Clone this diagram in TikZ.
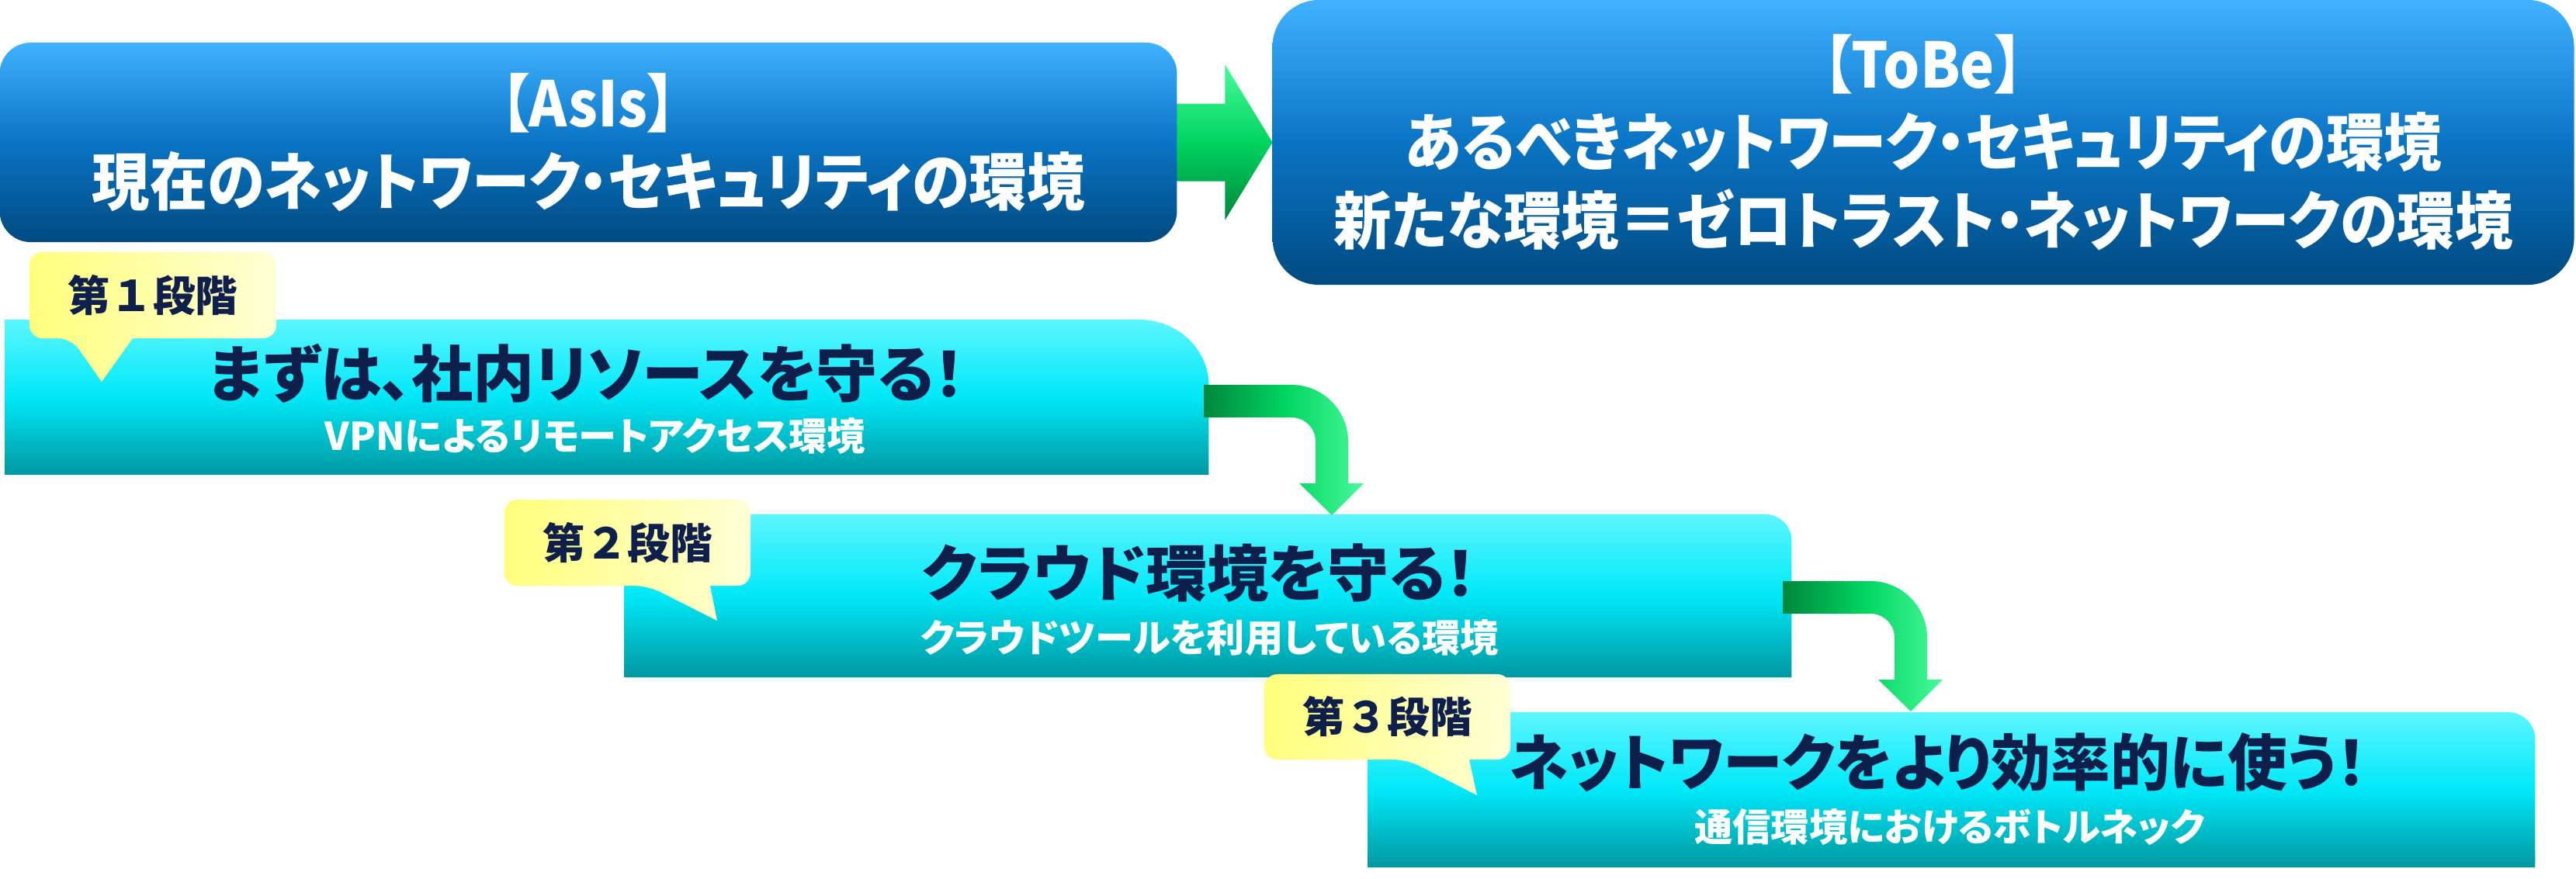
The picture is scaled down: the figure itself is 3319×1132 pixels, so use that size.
\documentclass[tikz,border=0pt]{standalone}
\usepackage{fontspec}
\setmainfont{Noto Sans CJK JP}
\newfontfamily\jpfont{Noto Sans CJK JP}[RawFeature=+palt]
\newfontfamily\jpnarrow{Noto Sans CJK JP}[RawFeature=+palt,FakeStretch=0.92]
\usetikzlibrary{backgrounds,calc,positioning}

\definecolor{navy}{HTML}{0F1F4B}
\definecolor{blueT}{HTML}{40B2FF}
\definecolor{blueM}{HTML}{0A74C4}
\definecolor{blueB}{HTML}{004A80}
\definecolor{cyanT}{HTML}{5CF6FF}
\definecolor{cyanM}{HTML}{00E8F8}
\definecolor{cyanB}{HTML}{00979F}
\definecolor{yelL}{HTML}{FFFF7C}
\definecolor{yelR}{HTML}{FFFFD6}
\definecolor{grnD}{HTML}{00863C}
\definecolor{grnM}{HTML}{00D460}
\definecolor{grnL}{HTML}{48FA9A}

\begin{document}
\begin{tikzpicture}
  [
   x=0.01cm, y=-0.01cm,
   bluebox/.style={rectangle,inner sep=0pt,outer sep=0pt,align=center,text=white,
     top color=blueT,bottom color=blueB,middle color=blueM,
     font=\jpnarrow\bfseries\fontsize{23}{28.5}\selectfont},
   stagebox/.style={rectangle,inner sep=0pt,outer sep=0pt},
   stagefill/.style={top color=cyanT,bottom color=cyanB,middle color=cyanM},
   title/.style={text=navy,inner sep=0pt,font=\jpfont\bfseries\fontsize{22.5}{27}\selectfont},
   sub/.style={text=white,inner sep=0pt,font=\jpfont\bfseries\fontsize{14}{17}\selectfont},
   tag/.style={rectangle,inner sep=0pt,outer sep=0pt,text=navy,
     minimum width=3.17cm,minimum height=1.11cm,font=\bfseries\fontsize{15.5}{18}\selectfont},
   tagfill/.style={left color=yelL,right color=yelR},
   grnh/.style={left color=grnD,right color=grnL,middle color=grnM},
   grnv/.style={top color=grnL,bottom color=grnD,middle color=grnM}
  ]
   \useasboundingbox (0,0) rectangle (3319,1132);

   % AsIs / ToBe
   \node[bluebox,rounded corners=0.4cm,minimum width=15.16cm,minimum height=2.57cm]
     (asis) at (758,183.5) {【AsIs】\\現在のネットワーク・セキュリティの環境};
   \node[bluebox,rounded corners=0.6cm,minimum width=16.76cm,minimum height=3.67cm]
     (tobe) at (2478,183.5) {【ToBe】\\あるべきネットワーク・セキュリティの環境\\新たな環境＝ゼロトラスト・ネットワークの環境};

   % stages
   \node[stagebox,minimum width=15.50cm,minimum height=2.00cm] (s1) at (782,512) {};
   \node[stagebox,minimum width=15.03cm,minimum height=2.10cm] (s2) at (1556.5,768) {};
   \node[stagebox,minimum width=15.03cm,minimum height=2.00cm] (s3) at (2514.5,1018) {};

   \node[title] (t1) at (756,481) {まずは、社内リソースを守る！};
   \node[sub]   (u1) at (767,562) {VPNによるリモートアクセス環境};
   \node[title] (t2) at (1545,739) {クラウド環境を守る！};
   \node[sub]   (u2) at (1558,822) {クラウドツールを利用している環境};
   \node[title,xscale=0.97] (t3) at (2497,983) {ネットワークをより効率的に使う！};
   \node[sub]   (u3) at (2512,1066) {通信環境におけるボトルネック};

   % callouts
   \node[tag,minimum width=3.18cm] (c1) at (197,380.5) {第１段階};
   \node[tag] (c2) at (808.5,699.5) {第２段階};
   \node[tag,minimum height=1.10cm] (c3) at (1787.5,924) {第３段階};
   \coordinate (c1tip) at (131,492);
   \coordinate (c2tip) at (924,800);
   \coordinate (c3tip) at (1903,1025);

   \coordinate (a1) at (1551,517);
   \coordinate (a2) at (2297,770);

   \begin{scope}[on background layer]
     \shade[stagefill] (s1.south west) -- (s1.north west) -- ($(s1.north east)+(-90,0)$)
       arc[start angle=-90,end angle=0,x radius=90,y radius=85] -- (s1.south east) -- cycle;
     \shade[stagefill] (s2.south west) -- (s2.north west) -- ($(s2.north east)+(-34,0)$)
       arc[start angle=-90,end angle=0,radius=34] -- (s2.south east) -- cycle;
     \shade[stagefill] (s3.south west) -- (s3.north west) -- ($(s3.north east)+(-35,0)$)
       arc[start angle=-90,end angle=0,radius=35] -- (s3.south east) -- cycle;

     % arrows
     \shade[grnv] ($(asis.east)+(0,-50)$) -- ($(asis.east)+(62,-50)$) -- ($(asis.east)+(62,-100)$)
       -- (tobe.west) -- ($(asis.east)+(62,100)$) -- ($(asis.east)+(62,50)$) -- ($(asis.east)+(0,50)$) -- cycle;
     \foreach \a in {a1,a2}
       \shade[grnh] ($(\a)+(0,-21)$) -- ++(113,0) arc[start angle=-90,end angle=0,radius=73]
         -- ++(0,54) -- ++(20,0) -- ++(-41,41) -- ++(-42,-41) -- ++(21,0) -- ++(0,-54)
         arc[start angle=0,end angle=-90,radius=31] -- ++(-113,0) -- cycle;

     \shade[tagfill] ($(c1.south west)+(54,0)$) -- (c1tip) -- ($(c1.south west)+(133,0)$)
       [rounded corners=0.17cm] -- (c1.south east) -- (c1.north east) -- (c1.north west) -- (c1.south west) -- cycle;
     \shade[tagfill] ($(c2.south west)+(185,0)$) -- (c2tip) -- ($(c2.south west)+(265,0)$)
       [rounded corners=0.17cm] -- (c2.south east) -- (c2.north east) -- (c2.north west) -- (c2.south west) -- cycle;
     \shade[tagfill] ($(c3.south west)+(184,0)$) -- (c3tip) -- ($(c3.south west)+(264,0)$)
       [rounded corners=0.17cm] -- (c3.south east) -- (c3.north east) -- (c3.north west) -- (c3.south west) -- cycle;
   \end{scope}

\end{tikzpicture}
\end{document}
